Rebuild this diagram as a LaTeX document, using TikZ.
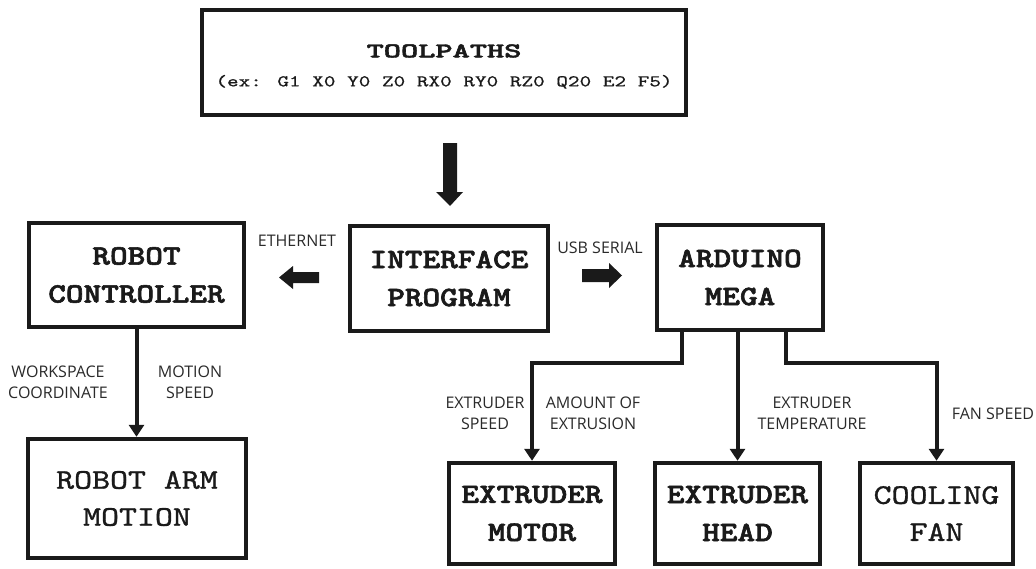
\documentclass[tikz,border=0pt]{standalone}
\usepackage{fontspec}
\usepackage{graphicx}
\newfontfamily\monobold[Extension=.otf,FakeBold=2]{lmmonolt10-bold}
\newfontfamily\monoreg[Extension=.otf,FakeBold=1]{lmmono10-regular}
\newfontfamily\monoex[Extension=.otf,FakeBold=0.6]{lmmono10-regular}
\newfontfamily\lblfont{Open Sans}
\usetikzlibrary{arrows.meta}
\definecolor{ink}{HTML}{1A1A1A}
\definecolor{lblc}{HTML}{2A2A2A}
\newcommand\bx[1]{\scalebox{1.2}[1]{#1}}
\tikzset{
  box/.style={draw=ink, line width=4.5pt, inner sep=0pt, align=center, text=ink,
    font=\monobold\fontsize{28}{38}\selectfont},
  thinbox/.style={box, font=\monoreg\fontsize{28.5}{37}\selectfont},
  conn/.style={draw=ink, line width=4pt, -{Triangle[length=12pt,width=15pt]}},
  lbl/.style={font=\lblfont\fontsize{16}{21}\selectfont, text=lblc, align=center, inner sep=0pt},
  blockarrow/.style={fill=ink}
}
\begin{document}
\begin{tikzpicture}[x=1pt,y=-1pt]
\useasboundingbox[fill=white] (0,0) rectangle (1036,568);

% boxes
\node[box, minimum width=484pt, minimum height=105pt, font=\monoex\fontsize{16.4}{29}\selectfont] (top) at (444,62.5)
  {\rule{0pt}{21pt}{\monobold\fontsize{21}{29}\selectfont\scalebox{1.56}[1]{TOOLPATHS}}\\\scalebox{1.35}[1]{(ex: G1 X0 Y0 Z0 RX0 RY0 RZ0 Q20 E2 F5)}};
\node[box, minimum width=215pt, minimum height=104pt] (rc) at (136.5,275) {\bx{ROBOT}\\\bx{CONTROLLER}};
\node[box, minimum width=198pt, minimum height=105pt] (ip) at (449,278.5) {\bx{INTERFACE}\\\bx{PROGRAM}};
\node[box, minimum width=166pt, minimum height=105pt] (am) at (740,277.5) {\bx{ARDUINO}\\\bx{MEGA}};
\node[thinbox, minimum width=218pt, minimum height=119pt] (ram) at (137,498.5) {\bx{ROBOT ARM}\\\bx{MOTION}};
\node[box, minimum width=166pt, minimum height=101pt] (em) at (532,513.5) {\bx{EXTRUDER}\\\bx{MOTOR}};
\node[box, minimum width=165pt, minimum height=101pt] (eh) at (737.5,513.5) {\bx{EXTRUDER}\\\bx{HEAD}};
\node[thinbox, minimum width=153pt, minimum height=101pt] (cf) at (936.5,513.5) {\bx{COOLING}\\\bx{FAN}};

% block arrows
\fill[blockarrow] (457,143) -- (457,192) -- (463,192) -- (450,206) -- (436,192) -- (443,192) -- (443,143) -- cycle;
\fill[blockarrow] (319,272) -- (293,272) -- (293,266) -- (279,277.5) -- (293,289) -- (293,283) -- (319,283) -- cycle;
\fill[blockarrow] (582,269) -- (609,269) -- (609,263) -- (622,275.5) -- (609,288) -- (609,282) -- (582,282) -- cycle;

% connectors
\coordinate (bl) at (682,363);
\coordinate (br) at (786,363);
\draw[conn] (rc.south) -- (rc.south |- ram.north);
\draw[conn] (am.south -| bl) -- (bl) -| (em.north);
\draw[conn] (eh.north |- am.south) -- (eh.north);
\draw[conn] (am.south -| br) -- (br) -| (cf.north);

% labels
\node[lbl] (leth) at (297,241) {ETHERNET};
\node[lbl] (lusb) at (600,248) {USB SERIAL};
\node[lbl] (lws) at (58,382.5) {WORKSPACE\\COORDINATE};
\node[lbl] (lms) at (190,382.5) {MOTION\\SPEED};
\node[lbl] (les) at (485,413) {EXTRUDER\\SPEED};
\node[lbl] (lae) at (593,413) {AMOUNT OF\\EXTRUSION};
\node[lbl] (let) at (812,413) {EXTRUDER\\TEMPERATURE};
\node[lbl] (lfs) at (993,414) {FAN SPEED};
\end{tikzpicture}
\end{document}
